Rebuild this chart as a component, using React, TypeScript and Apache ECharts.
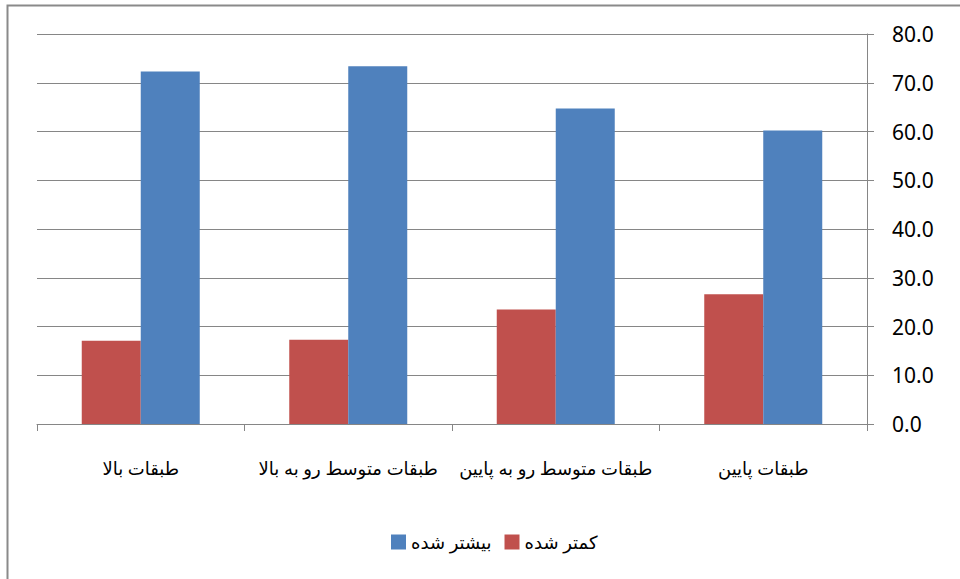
import React, { useEffect, useRef } from "react";
import * as echarts from "echarts";

const categories = [
  "طبقات بالا",
  "طبقات متوسط رو به بالا",
  "طبقات متوسط رو به پایین",
  "طبقات پایین",
];
const decreased = [17.1, 17.3, 23.5, 26.6];
const increased = [72.3, 73.4, 64.7, 60.2];
const seriesNames = ["کمتر شده", "بیشتر شده"];
const legendOrder = ["بیشتر شده", "کمتر شده"];

export default function App() {
  const ref = useRef<HTMLDivElement>(null);
  useEffect(() => {
    document.body.style.margin = "0";
    const chart = echarts.init(ref.current!, null, { renderer: "svg" });
    const gray = "#868686";
    chart.setOption({
      animation: false,
      backgroundColor: "#ffffff",
      textStyle: { fontFamily: "'Noto Sans', 'DejaVu Sans', sans-serif" },
      grid: { left: 37, right: 93, top: 34, bottom: 155, containLabel: false },
      legend: {
        data: legendOrder,
        top: 528,
        left: 386,
        itemWidth: 15,
        itemHeight: 15,
        itemGap: 13,
        icon: "rect",
        textStyle: { fontSize: 18, color: "#000" },
      },
      xAxis: {
        type: "category",
        data: categories,
        axisLine: { show: true, lineStyle: { color: gray, width: 1 } },
        axisTick: { show: true, length: 7, interval: 0, lineStyle: { color: gray } },
        axisLabel: { interval: 0, margin: 35, fontSize: 18, color: "#000" },
      },
      yAxis: {
        type: "value",
        position: "right",
        min: 0,
        max: 80,
        interval: 10,
        axisLine: { show: true, lineStyle: { color: gray, width: 1 } },
        axisTick: { show: true, length: 7, lineStyle: { color: gray } },
        axisLabel: {
          margin: 25,
          fontSize: 21,
          color: "#000",
          align: "left",
          formatter: (v: number) => v.toFixed(1),
        },
        splitLine: { show: true, lineStyle: { color: gray, width: 1.2 } },
      },
      series: [
        {
          name: seriesNames[0],
          type: "bar",
          data: decreased,
          barWidth: 59,
          barGap: "0%",
          itemStyle: { color: "#C0504D" },
        },
        {
          name: seriesNames[1],
          type: "bar",
          data: increased,
          barWidth: 59,
          barGap: "0%",
          itemStyle: { color: "#4F81BD" },
        },
      ],
      graphic: [
        {
          type: "rect",
          shape: { x: 7.5, y: 5.5, width: 2000, height: 2000 },
          style: { fill: "none", stroke: "#8a8a8a", lineWidth: 2 },
          silent: true,
        },
      ],
    });
    return () => chart.dispose();
  }, []);
  return <div ref={ref} style={{ width: 960, height: 579 }} />;
}
